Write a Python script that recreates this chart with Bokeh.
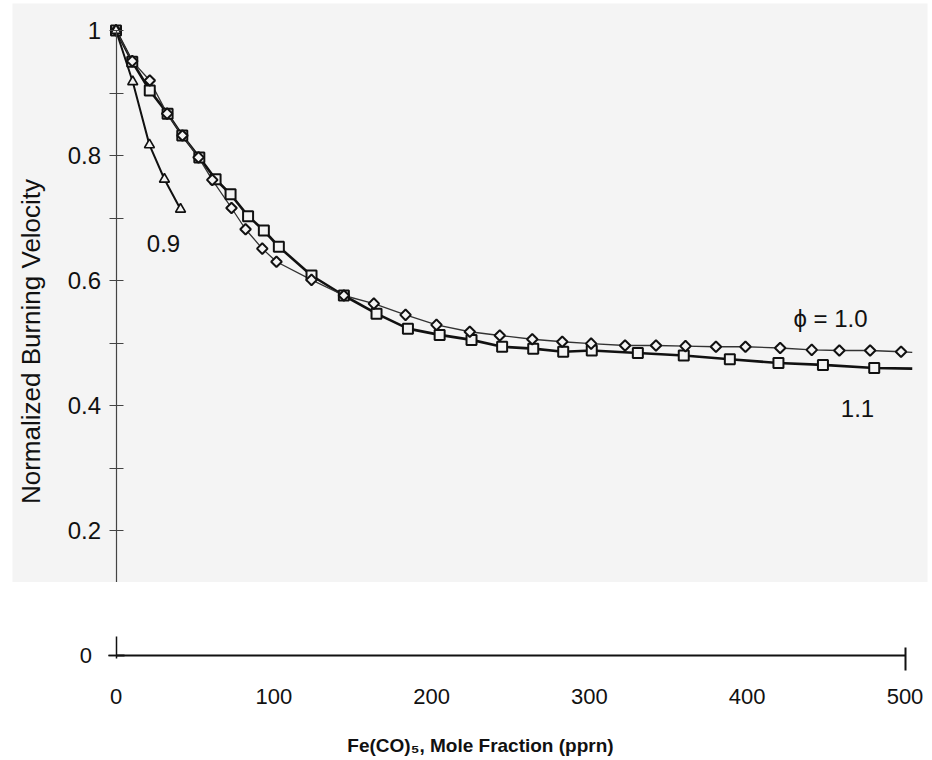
import numpy as np
from bokeh.plotting import figure
from bokeh.models import Range1d, FixedTicker, CustomJSTickFormatter, Label, BoxAnnotation
from bokeh.layouts import column
from bokeh.embed import file_html
from bokeh.resources import INLINE

# ---------------- data ----------------
# phi = 0.9 (triangles)
phi09_x = [0, 10.6, 21.2, 30.7, 40.9]
phi09_y = [1.0, 0.918, 0.817, 0.762, 0.714]

# phi = 1.0 (diamonds, thin line)
phi10_x = [0, 10.3, 21.4, 32.4, 42.1, 52.3, 61.0, 73.2, 82.1, 92.7, 101.7, 123.9,
           144.4, 163.4, 183.5, 203.1, 224.2, 243.2, 263.8, 282.8, 301.1, 322.6,
           342.2, 360.9, 380.2, 398.9, 420.9, 440.9, 458.4, 477.9, 497.5]
phi10_y = [1.0, 0.951, 0.920, 0.867, 0.832, 0.797, 0.761, 0.716, 0.682, 0.651, 0.630, 0.601,
           0.576, 0.563, 0.545, 0.529, 0.518, 0.512, 0.506, 0.502, 0.499, 0.496,
           0.496, 0.495, 0.494, 0.494, 0.492, 0.489, 0.488, 0.488, 0.486]
phi10_line_end = (504.6, 0.485)

# phi = 1.1 (squares, thick line)
phi11_x = [0, 10.3, 21.4, 32.7, 42.0, 52.8, 63.1, 72.6, 83.7, 93.7, 103.2, 123.9,
           144.4, 165.1, 185.0, 205.1, 225.3, 244.7, 264.4, 283.4, 301.5, 330.7,
           359.8, 389.0, 419.8, 448.0, 480.5]
phi11_y = [1.0, 0.950, 0.904, 0.867, 0.832, 0.797, 0.762, 0.738, 0.703, 0.680, 0.654, 0.608,
           0.576, 0.547, 0.523, 0.513, 0.505, 0.494, 0.491, 0.486, 0.488, 0.484,
           0.480, 0.474, 0.468, 0.465, 0.460]
phi11_line_end = (504.6, 0.459)

y_ticks = [0.2, 0.4, 0.6, 0.8, 1.0]
y_minor_ticks = [0.3, 0.5, 0.7, 0.9]
y_zero_tick = [0]
x_ticks = [0, 100, 200, 300, 400, 500]
x_end_tick = [500]

x_title = "Fe(CO)\u2085, Mole Fraction (pprn)"
y_title = "Normalized Burning Velocity"
curve_labels = ["0.9", "\u03d5 = 1.0", "1.1"]

# ---------------- layout constants (pixels) ----------------
W = 930
HA = 582          # upper (grey) panel height
HB = 176          # lower (white) panel height
X0 = 115.5        # pixel of x = 0
KX = 1.578        # pixels per ppm
Y0 = 655.0        # pixel (from top of page) of y = 0
KY = 625.0        # pixels per unit of y
GREY = "#f4f4f4"
INK = "#111111"
FONT = "Liberation Sans"


def xd(px):
    return (px - X0) / KX


def yd(py):
    return (Y0 - py) / KY


x_range = Range1d(xd(0), xd(W))
fmt = "return String(Math.round(tick*10)/10)"

# ---------------- upper figure ----------------
pa = figure(width=W, height=HA, output_backend="svg", toolbar_location=None,
            x_range=x_range, y_range=Range1d(yd(HA), yd(0)),
            min_border=0, min_border_left=0, min_border_right=0,
            min_border_top=0, min_border_bottom=0)
pa.background_fill_color = "white"
pa.border_fill_color = "white"
pa.outline_line_color = None
pa.xgrid.grid_line_color = None
pa.ygrid.grid_line_color = None
pa.xaxis.visible = False

pa.add_layout(BoxAnnotation(left=xd(12), right=xd(927), top=yd(3), bottom=yd(HA),
                            fill_color=GREY, fill_alpha=1.0, line_color=None,
                            level="underlay"))

ya = pa.yaxis[0]
ya.fixed_location = 0
ya.bounds = (yd(HA), 1.0)
ya.ticker = FixedTicker(ticks=y_ticks, minor_ticks=y_minor_ticks)
ya.formatter = CustomJSTickFormatter(code=fmt)
ya.major_tick_in = 7
ya.major_tick_out = 7
ya.minor_tick_in = 7
ya.minor_tick_out = 7
ya.axis_line_color = "#444444"
ya.major_tick_line_color = "#444444"
ya.minor_tick_line_color = "#444444"
ya.axis_line_width = 1.2
ya.major_label_text_font = FONT
ya.major_label_text_font_size = "24px"
ya.major_label_text_color = INK
ya.major_label_standoff = 8

# curves
pa.line(phi11_x + [phi11_line_end[0]], phi11_y + [phi11_line_end[1]],
        line_color=INK, line_width=2.6)
pa.line(phi10_x + [phi10_line_end[0]], phi10_y + [phi10_line_end[1]],
        line_color="#333333", line_width=1.3)
pa.line(phi09_x, phi09_y, line_color=INK, line_width=2.0)

pa.scatter(phi11_x, phi11_y, marker="square", size=10, line_width=2.0,
           line_color=INK, fill_color=GREY)
pa.scatter(phi10_x, phi10_y, marker="square", angle=np.pi / 4, size=7.5, line_width=2.0,
           line_color=INK, fill_color=GREY)
pa.scatter(phi09_x, phi09_y, marker="triangle", size=10, line_width=1.6,
           line_color=INK, fill_color=GREY)

# curve labels
for txt, (px, py) in zip(curve_labels, [(163, 243), (830, 318), (857, 408)]):
    pa.add_layout(Label(x=xd(px), y=yd(py), text=txt, text_align="center",
                        text_baseline="middle", text_font=FONT,
                        text_font_size="24px", text_color=INK))
# y-axis title
pa.add_layout(Label(x=xd(30), y=yd(341), text=y_title, angle=np.pi / 2,
                    text_align="center", text_baseline="middle", text_font=FONT,
                    text_font_size="26px", text_color=INK))

# ---------------- lower figure ----------------
pb = figure(width=W, height=HB, output_backend="svg", toolbar_location=None,
            x_range=x_range, y_range=Range1d(yd(HA + HB), yd(HA)),
            min_border=0, min_border_left=0, min_border_right=0,
            min_border_top=0, min_border_bottom=0)
pb.background_fill_color = "white"
pb.border_fill_color = "white"
pb.outline_line_color = None
pb.xgrid.grid_line_color = None
pb.ygrid.grid_line_color = None

yb = pb.yaxis[0]
yb.fixed_location = 0
yb.bounds = (-0.004, 0.03)
yb.ticker = FixedTicker(ticks=y_zero_tick, minor_ticks=y_zero_tick)
yb.formatter = CustomJSTickFormatter(code=fmt)
yb.major_tick_in = 8
yb.major_tick_out = 8
yb.minor_tick_in = 8
yb.minor_tick_out = 8
yb.axis_line_color = INK
yb.major_tick_line_color = INK
yb.minor_tick_line_color = INK
yb.major_tick_line_width = 1.5
yb.minor_tick_line_width = 1.5
yb.axis_line_width = 1.5
yb.major_label_text_font = FONT
yb.major_label_text_font_size = "22px"
yb.major_label_text_color = INK
yb.major_label_standoff = 16

xb = pb.xaxis[0]
xb.fixed_location = 0
xb.bounds = (0, 500)
xb.ticker = FixedTicker(ticks=x_ticks, minor_ticks=x_end_tick)
xb.major_tick_in = 0
xb.major_tick_out = 0
xb.minor_tick_in = 8
xb.minor_tick_out = 15
xb.axis_line_color = INK
xb.axis_line_width = 2
xb.minor_tick_line_color = INK
xb.minor_tick_line_width = 2
xb.major_label_text_font = FONT
xb.major_label_text_font_size = "22px"
xb.major_label_text_color = INK
xb.major_label_standoff = 18

pb.add_layout(Label(x=xd(480), y=yd(745), text=x_title, text_align="center",
                    text_baseline="middle", text_font=FONT,
                    text_font_size="19px", text_font_style="bold",
                    text_color=INK))

layout = column(pa, pb, spacing=0)
open("out.html", "w").write(file_html(layout, INLINE))
